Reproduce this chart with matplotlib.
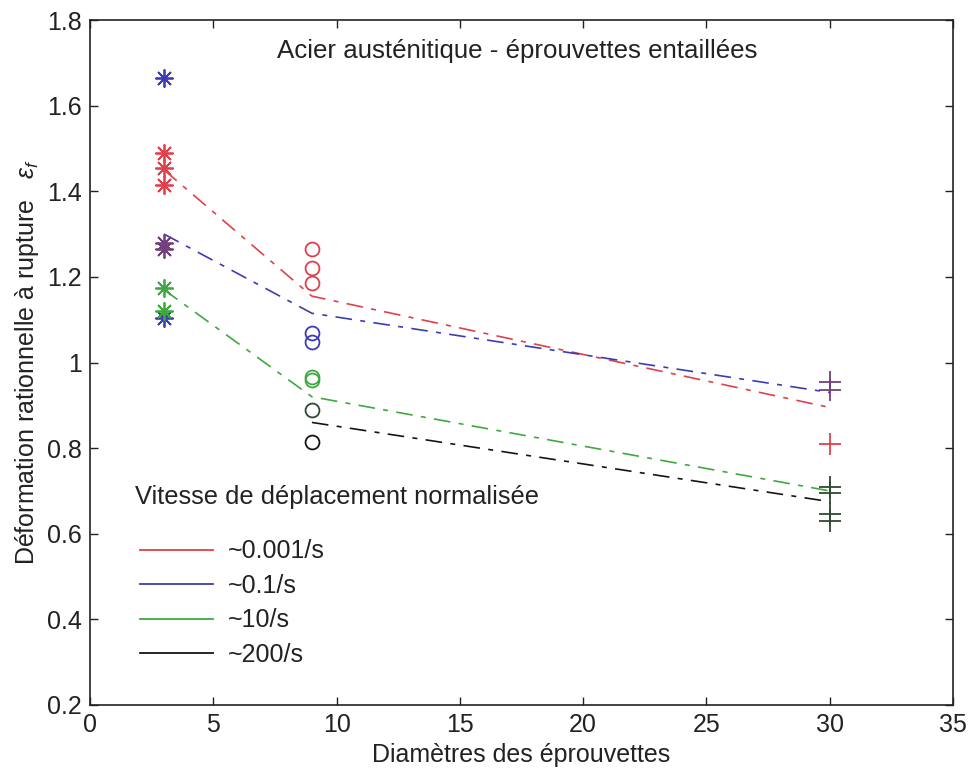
import matplotlib
matplotlib.use("Agg")
import matplotlib.pyplot as plt
from matplotlib import font_manager
from matplotlib.lines import Line2D

names = {f.name for f in font_manager.fontManager.ttflist}
fam = ['Liberation Sans Narrow'] if 'Liberation Sans Narrow' in names else ['Liberation Sans']
plt.rcParams['font.family'] = fam + ['DejaVu Sans']
plt.rcParams['mathtext.fontset'] = 'custom'
plt.rcParams['mathtext.it'] = fam[0] + ':italic'
plt.rcParams['mathtext.rm'] = fam[0]

# ---- data ----
x_small, x_mid, x_large = 3, 9, 30

red_stars = [1.49, 1.455, 1.415]
blue_stars = [1.665, 1.105]
purple_stars = [1.28, 1.265]
green_stars = [1.175, 1.12]

red_circles = [1.265, 1.22, 1.185]
blue_circles = [1.068, 1.047]
green_circles = [0.965, 0.958]
darkgreen_circles = [0.888]
black_circles = [0.815]

purple_plus = [0.955, 0.935]
red_plus = [0.81]
darkgreen_plus = [0.71, 0.695, 0.645, 0.63]

fit_x = [3, 9, 30]
fit_red = [1.45, 1.155, 0.895]
fit_blue = [1.30, 1.115, 0.93]
fit_green = [1.17, 0.92, 0.70]
fit_black_x = [9, 30]
fit_black = [0.86, 0.675]

legend_title = 'Vitesse de déplacement normalisée'
legend_labels = ['~0.001/s', '~0.1/s', '~10/s', '~200/s']

RED = '#e0404c'
BLUE = '#3c3cb4'
GREEN = '#3fa83f'
PURPLE = '#73407e'
DKGREEN = '#2f4a30'
BLACK = '#151515'
TXT = '#222222'

fig = plt.figure(figsize=(9.69, 7.70), dpi=100)
ax = fig.add_axes([90/969, 1-705/770, (953-90)/969, (705-20)/770])

dash = (10, 5, 3, 5)
for ys, c in [(fit_red, RED), (fit_blue, BLUE), (fit_green, GREEN)]:
    ax.plot(fit_x, ys, color=c, lw=1.2, dashes=dash)
ax.plot(fit_black_x, fit_black, color=BLACK, lw=1.2, dashes=dash)

mew = 1.3
ASTER = (8, 2, 0)
def pts(x, ys, marker, color, size):
    ax.plot([x]*len(ys), ys, linestyle='none', marker=marker, color=color,
            markersize=size, markeredgewidth=mew, markerfacecolor='none')

pts(x_small, red_stars, ASTER, RED, 13)
pts(x_small, blue_stars, ASTER, BLUE, 13)
pts(x_small, purple_stars, ASTER, PURPLE, 13)
pts(x_small, green_stars, ASTER, GREEN, 13)

pts(x_mid, red_circles, 'o', RED, 10)
pts(x_mid, blue_circles, 'o', BLUE, 10)
pts(x_mid, green_circles, 'o', GREEN, 10)
pts(x_mid, darkgreen_circles, 'o', DKGREEN, 10)
pts(x_mid, black_circles, 'o', BLACK, 10)

pts(x_large, purple_plus, '+', PURPLE, 16)
pts(x_large, red_plus, '+', RED, 16)
pts(x_large, darkgreen_plus, '+', DKGREEN, 16)

ax.set_xlim(0, 35)
ax.set_ylim(0.2, 1.8)
ax.set_xticks([0, 5, 10, 15, 20, 25, 30, 35])
ax.set_yticks([0.2, 0.4, 0.6, 0.8, 1.0, 1.2, 1.4, 1.6, 1.8])
ax.set_yticklabels(['0.2', '0.4', '0.6', '0.8', '1', '1.2', '1.4', '1.6', '1.8'])
ax.tick_params(direction='in', top=True, right=True, length=6, width=1,
               labelsize=18, pad=6, colors=TXT)
for s in ax.spines.values():
    s.set_linewidth(1.2)
    s.set_color(TXT)

ax.set_xlabel('Diamètres des éprouvettes', fontsize=18, color=TXT, labelpad=4)
ax.set_ylabel(r'Déformation rationnelle à rupture   $\varepsilon_f$', fontsize=18,
              color=TXT, labelpad=4)

ax.text(0.495, 0.955, 'Acier austénitique - éprouvettes entaillées',
        transform=ax.transAxes, ha='center', va='center', fontsize=18.6, color=TXT)

# legend title as separate text (larger gap in reference)
fig.text(135/969, 1-497/770, legend_title, ha='left', va='center', fontsize=18.4, color=TXT)

handles = [Line2D([0], [0], color=c, lw=1.3) for c in [RED, BLUE, GREEN, BLACK]]
leg = ax.legend(handles, legend_labels, loc='upper left',
                bbox_to_anchor=((140-90)/863 - 0.020, (705-530)/685 + 0.012), frameon=False,
                fontsize=18, handlelength=2.9, handletextpad=0.6,
                labelspacing=0.42, borderpad=0.2)
for t in leg.get_texts():
    t.set_color(TXT)

fig.savefig('out.png', dpi=100)
